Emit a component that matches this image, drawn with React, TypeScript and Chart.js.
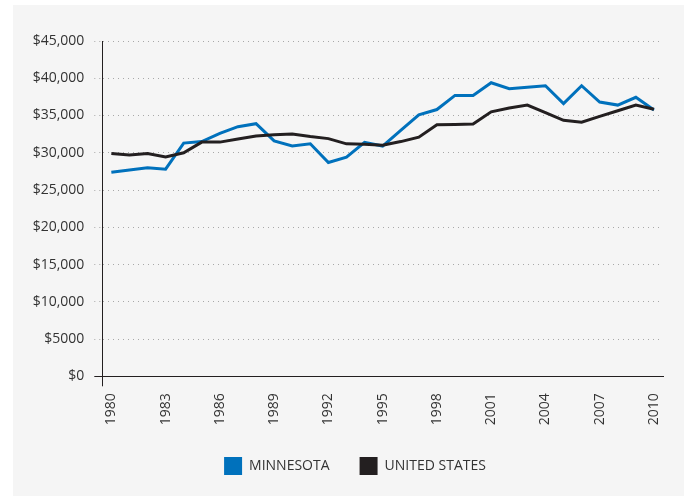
import React, { useEffect, useRef } from 'react';
import { Chart, registerables } from 'chart.js';

Chart.register(...registerables);

const years = [
  '1980', '1981', '1982', '1983', '1984', '1985', '1986', '1987', '1988', '1989',
  '1990', '1991', '1992', '1993', '1994', '1995', '1996', '1997', '1998', '1999',
  '2000', '2001', '2002', '2003', '2004', '2005', '2006', '2007', '2008', '2009', '2010',
];

const minnesota = [
  27400, 27700, 28000, 27800, 31300, 31500, 32600, 33500, 33900, 31600,
  30900, 31200, 28700, 29400, 31400, 30900, 33000, 35100, 35800, 37700,
  37700, 39400, 38600, 38800, 39000, 36600, 39000, 36800, 36400, 37450, 35750,
];

const unitedStates = [
  29900, 29700, 29900, 29450, 30000, 31430, 31430, 31850, 32250, 32420,
  32520, 32170, 31900, 31200, 31150, 31000, 31500, 32100, 33750, 33800,
  33870, 35500, 36000, 36400, 35400, 34350, 34100, 34880, 35640, 36400, 35850,
];

const xTickLabels = ['1980', '1983', '1986', '1989', '1992', '1995', '1998', '2001', '2004', '2007', '2010'];
const yTickValues = [0, 5000, 10000, 15000, 20000, 25000, 30000, 35000, 40000, 45000];
const yTickLabels = ['$0', '$5000', '$10,000', '$15,000', '$20,000', '$25,000', '$30,000', '$35,000', '$40,000', '$45,000'];

const BLUE = '#0071bc';
const DARK = '#231f20';
const TEXT = '#333333';
const GRID = '#a8a8a8';

const legendShift = {
  id: 'legendShift',
  afterLayout(chart: any) {
    const lg = chart.legend;
    if (lg) {
      lg.left += 17;
      lg.right += 17;
    }
  },
};

export default function App() {
  const canvasRef = useRef<HTMLCanvasElement | null>(null);

  useEffect(() => {
    if (!canvasRef.current) return;
    Chart.defaults.font.family = "'Open Sans', sans-serif";
    const chart = new Chart(canvasRef.current, {
      type: 'line',
      data: {
        labels: years,
        datasets: [
          {
            label: 'MINNESOTA',
            data: minnesota,
            borderColor: BLUE,
            backgroundColor: BLUE,
            borderWidth: 3,
            pointRadius: 0,
            tension: 0,
            order: 1,
          },
          {
            label: 'UNITED STATES',
            data: unitedStates,
            borderColor: DARK,
            backgroundColor: DARK,
            borderWidth: 3,
            pointRadius: 0,
            tension: 0,
            order: 0,
          },
        ],
      },
      options: {
        responsive: false,
        animation: false,
        layout: { padding: { top: 36, right: 21, bottom: 21, left: 0 } },
        plugins: {
          tooltip: { enabled: false },
          legend: {
            position: 'bottom',
            maxHeight: 48,
            labels: {
              boxWidth: 18,
              boxHeight: 18,
              padding: 30,
              color: TEXT,
              font: { size: 14 },
              sort: (a: any, b: any) => a.datasetIndex - b.datasetIndex,
              generateLabels: (c: any) =>
                Chart.defaults.plugins.legend.labels.generateLabels(c).map((l: any) => ({
                  ...l,
                  lineWidth: 0,
                  strokeStyle: 'rgba(0,0,0,0)',
                })),
            },
          },
        },
        scales: {
          x: {
            offset: true,
            afterFit: (scale: any) => {
              scale.height = 50.7;
            },
            grid: {
              display: true,
              drawOnChartArea: false,
              offset: true,
              tickLength: 10,
              color: (ctx: any) => (ctx.index === 0 ? DARK : 'rgba(0,0,0,0)'),
            },
            border: { display: true, color: DARK, width: 1 },
            ticks: {
              autoSkip: false,
              maxRotation: 90,
              minRotation: 90,
              padding: 7,
              color: TEXT,
              font: { size: 14 },
              callback: (_v: any, index: number) => {
                const y = years[index];
                return xTickLabels.includes(y) ? y : '';
              },
            },
          },
          y: {
            min: 0,
            max: 45000,
            afterFit: (scale: any) => {
              scale.width = 89.3;
            },
            grid: {
              tickLength: 8,
              lineWidth: 1,
              color: (ctx: any) => (ctx.tick && ctx.tick.value === 0 ? DARK : GRID),
              tickBorderDash: (ctx: any) => (ctx.tick && ctx.tick.value === 0 ? [] : [1, 4]),
            },
            border: {
              display: true,
              color: DARK,
              width: 1,
              dash: (ctx: any) => (ctx.tick && ctx.tick.value === 0 ? [] : [1, 4]),
            },
            ticks: {
              stepSize: 5000,
              padding: 10,
              color: TEXT,
              font: { size: 14 },
              callback: (value: any) => {
                const i = yTickValues.indexOf(Number(value));
                return i >= 0 ? yTickLabels[i] : '';
              },
            },
          },
        },
      },
      plugins: [legendShift],
    } as any);
    return () => chart.destroy();
  }, []);

  return (
    <div
      style={{
        position: 'absolute',
        left: 13,
        top: 5,
        width: 671,
        height: 491,
        background: '#f5f5f5',
      }}
    >
      <canvas ref={canvasRef} width={671} height={491} style={{ display: 'block' }} />
    </div>
  );
}
